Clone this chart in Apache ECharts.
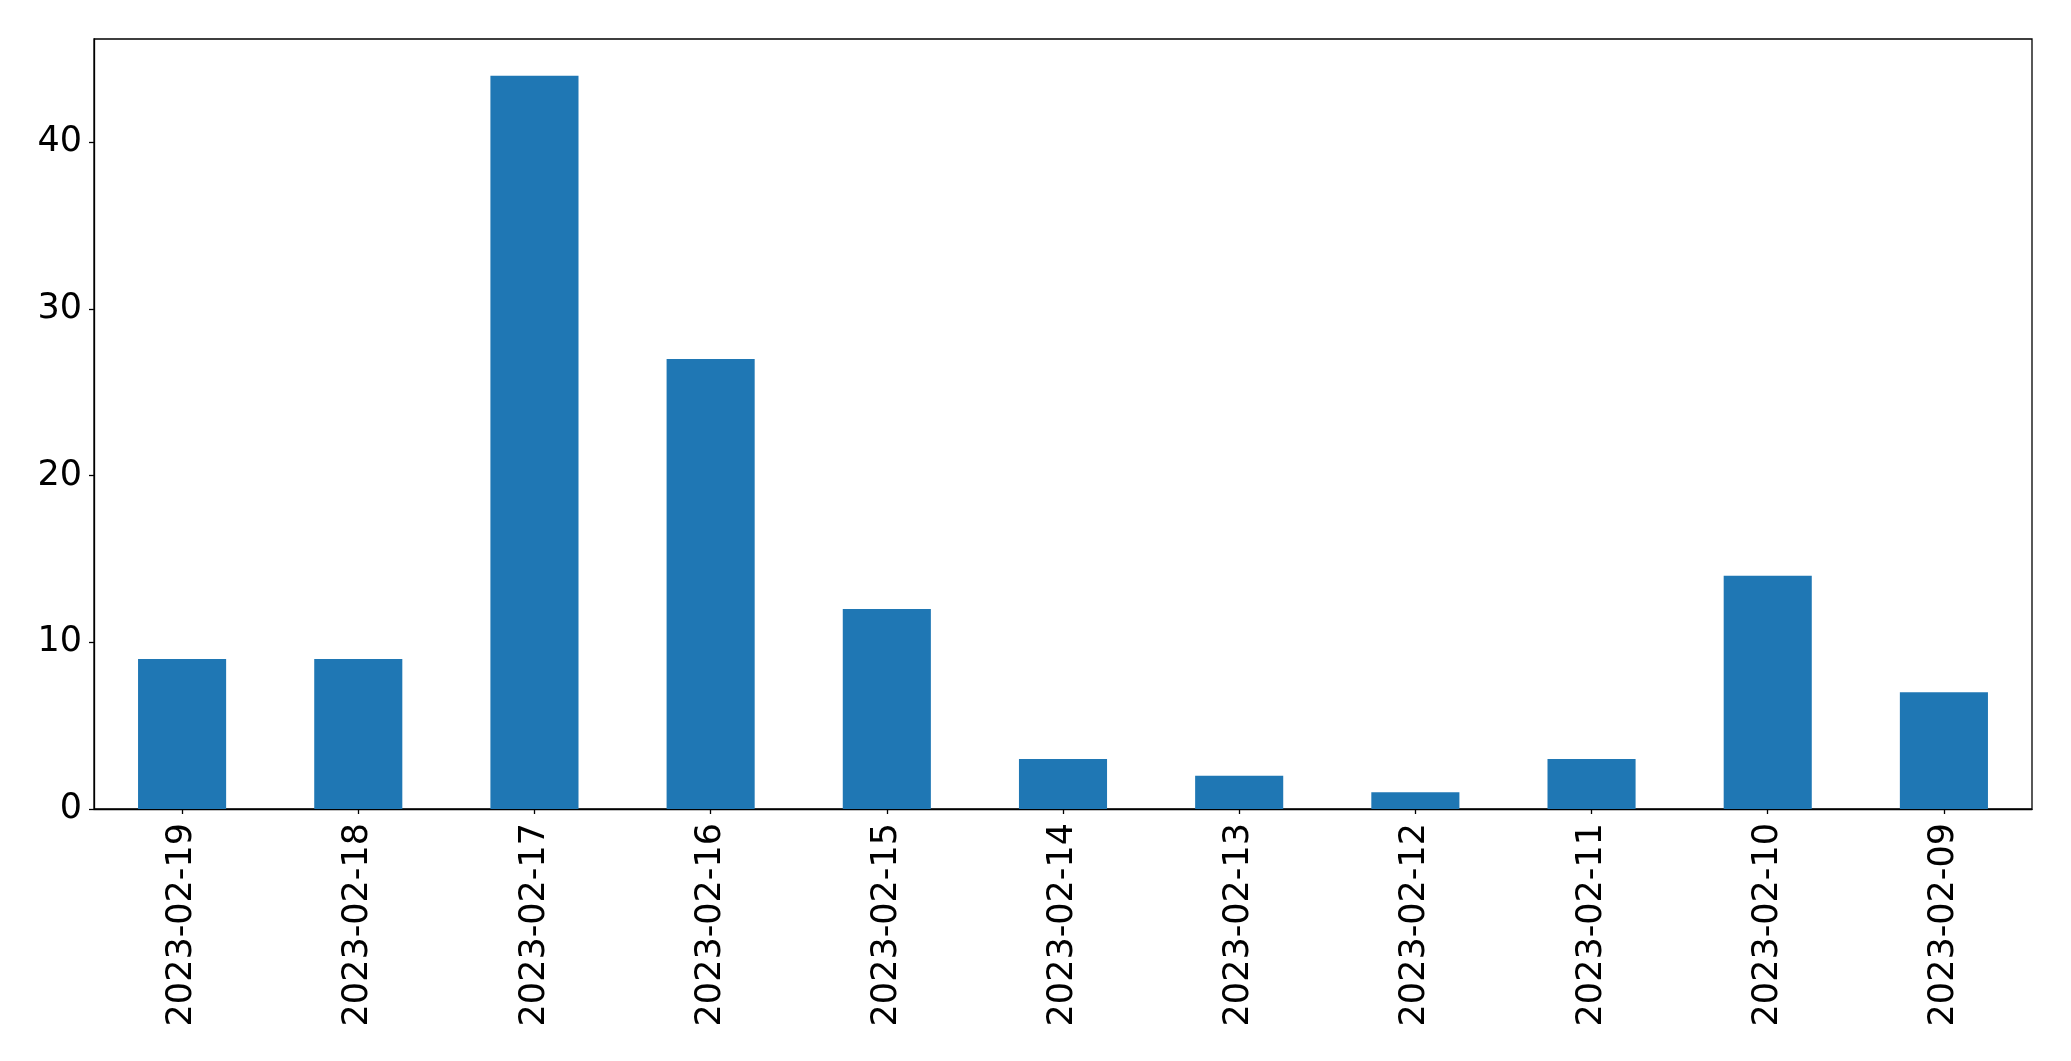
<!DOCTYPE html>
<html>
<head>
<meta charset="utf-8">
<script src="https://cdn.jsdelivr.net/npm/echarts@6/dist/echarts.min.js"></script>
<style>
html,body{margin:0;padding:0;background:#fff;}
#chart{width:2071px;height:1061px;}
</style>
</head>
<body>
<div id="chart"></div>
<script>
const categories = ['2023-02-19','2023-02-18','2023-02-17','2023-02-16','2023-02-15','2023-02-14','2023-02-13','2023-02-12','2023-02-11','2023-02-10','2023-02-09'];
const values = [9, 9, 44, 27, 12, 3, 2, 1, 3, 14, 7];
const yTicks = [0, 10, 20, 30, 40];
const yMax = 46.2;

const chart = echarts.init(document.getElementById('chart'), null, {renderer: 'canvas'});
const font = 'DejaVu Sans';
chart.setOption({
  animation: false,
  backgroundColor: '#ffffff',
  grid: {
    left: 94, right: 39, top: 39, bottom: 252,
    show: true, borderColor: '#000', borderWidth: 1.3, backgroundColor: 'transparent'
  },
  xAxis: {
    type: 'category',
    data: categories,
    boundaryGap: true,
    axisLine: {show: true, lineStyle: {color: '#000', width: 1.3}},
    axisTick: {show: true, alignWithLabel: true, length: 5, lineStyle: {color: '#000', width: 1.3}},
    axisLabel: {rotate: 90, margin: 14, color: '#000', fontFamily: font, fontSize: 35, interval: 0},
    splitLine: {show: false}
  },
  yAxis: {
    type: 'value',
    min: 0, max: yMax, interval: 10,
    axisLine: {show: true, lineStyle: {color: '#000', width: 1.3}},
    axisTick: {show: true, length: 5, customValues: yTicks, lineStyle: {color: '#000', width: 1.3}},
    axisLabel: {margin: 12, color: '#000', fontFamily: font, fontSize: 35, customValues: yTicks},
    splitLine: {show: false}
  },
  series: [{
    type: 'bar',
    data: values,
    barWidth: '50%',
    itemStyle: {color: '#1f77b4'}
  }]
});
</script>
</body>
</html>
